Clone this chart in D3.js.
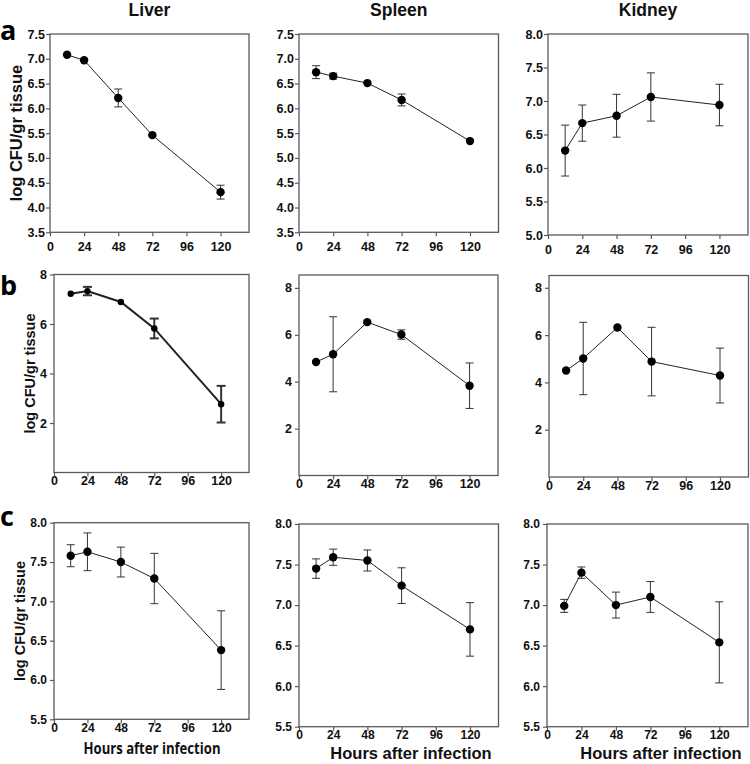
<!DOCTYPE html>
<html>
<head>
<meta charset="utf-8">
<script src="https://cdn.jsdelivr.net/npm/d3@7"></script>
<style>
  html, body { margin: 0; padding: 0; background: #fff; }
  svg { display: block; }
</style>
</head>
<body>
<svg id="chart" width="750" height="764"></svg>
<script>
// ---------- data ----------
const hours = [12, 24, 48, 72, 120];
const xTicks = [0, 24, 48, 72, 96, 120];
const organs = ["Liver", "Spleen", "Kidney"];
const rowLetters = ["a", "b", "c"];
const yLabel = "log CFU/gr tissue";
const xLabel = "Hours after infection";

const liverA = [7.08, 6.97, 6.21, 5.46, 4.31];
const liverAErr = [0, 0, 0.18, 0, 0.14];
const spleenA = [6.73, 6.65, 6.51, 6.17, 5.34];
const spleenAErr = [0.13, 0.06, 0, 0.12, 0];
const kidneyA = [6.26, 6.67, 6.78, 7.06, 6.94];
const kidneyAErr = [0.38, 0.27, 0.32, 0.36, 0.31];

const liverB = [7.22, 7.33, 6.89, 5.82, 2.76];
const liverBErr = [0, 0.17, 0, 0.40, 0.74];
const spleenB = [4.84, 5.17, 6.54, 6.01, 3.83];
const spleenBErr = [0, 1.6, 0, 0.2, 0.97];
const kidneyB = [4.50, 5.01, 6.32, 4.88, 4.29];
const kidneyBErr = [0, 1.53, 0, 1.45, 1.16];

const liverC = [7.58, 7.63, 7.50, 7.29, 6.38];
const liverCErr = [0.14, 0.24, 0.19, 0.32, 0.50];
const spleenC = [7.45, 7.59, 7.55, 7.24, 6.70];
const spleenCErr = [0.12, 0.10, 0.13, 0.22, 0.33];
const kidneyC = [6.99, 7.40, 7.00, 7.10, 6.54];
const kidneyCErr = [0.08, 0.07, 0.16, 0.19, 0.50];

const yTicksA = [3.5, 4.0, 4.5, 5.0, 5.5, 6.0, 6.5, 7.0, 7.5];
const yTicksAK = [5.0, 5.5, 6.0, 6.5, 7.0, 7.5, 8.0];
const yTicksB = [2, 4, 6, 8];
const yTicksC = [5.5, 6.0, 6.5, 7.0, 7.5, 8.0];

// ---------- layout ----------
const panels = [
  {row:0, col:0, vals:liverA,  err:liverAErr,  ticks:yTicksA,  dom:[3.5,7.5], l:50,  r:249,   t:34,    b:232.3, fmt:".1f"},
  {row:0, col:1, vals:spleenA, err:spleenAErr, ticks:yTicksA,  dom:[3.5,7.5], l:299, r:498.5, t:34,    b:232.3, fmt:".1f"},
  {row:0, col:2, vals:kidneyA, err:kidneyAErr, ticks:yTicksAK, dom:[5.0,8.0], l:548, r:748,   t:34,    b:235,   fmt:".1f"},
  {row:1, col:0, vals:liverB,  err:liverBErr,  ticks:yTicksB,  dom:[0,8],     l:54,  r:249,   t:274.5, b:472.5, fmt:"d", thick:true},
  {row:1, col:1, vals:spleenB, err:spleenBErr, ticks:yTicksB,  dom:[0,8.55],  l:299, r:498,   t:275,   b:475.5, fmt:"d"},
  {row:1, col:2, vals:kidneyB, err:kidneyBErr, ticks:yTicksB,  dom:[0,8.52],  l:549, r:748.5, t:275.5, b:477,   fmt:"d"},
  {row:2, col:0, vals:liverC,  err:liverCErr,  ticks:yTicksC,  dom:[5.5,8.0], l:54,  r:249,   t:522.7, b:719.3, fmt:".1f"},
  {row:2, col:1, vals:spleenC, err:spleenCErr, ticks:yTicksC,  dom:[5.5,8.0], l:299, r:498.5, t:524,   b:726.7, fmt:".1f"},
  {row:2, col:2, vals:kidneyC, err:kidneyCErr, ticks:yTicksC,  dom:[5.5,8.0], l:547, r:748,   t:524,   b:726.7, fmt:".1f"}
];

const svg = d3.select("#chart");
const axisColor = "#5a5a5a";
const tickFont = "'Liberation Sans', Arial, sans-serif";

panels.forEach(p => {
  const x = d3.scaleLinear().domain([0, 140]).range([p.l, p.r]);
  const y = d3.scaleLinear().domain(p.dom).range([p.b, p.t]);
  const g = svg.append("g");

  // box
  g.append("rect")
    .attr("x", p.l).attr("y", p.t)
    .attr("width", p.r - p.l).attr("height", p.b - p.t)
    .attr("fill", "none").attr("stroke", axisColor).attr("stroke-width", 1.3);

  const padY = p.row === 0 ? 1 : 3;
  const padX = p.row === 0 ? 6 : 0;
  const tfs = p.row === 2 ? 12 : 12.5;

  const ya = g.append("g").attr("transform", `translate(${p.l},0)`)
    .call(d3.axisLeft(y).tickValues(p.ticks).tickFormat(d3.format(p.fmt)).tickSize(4).tickPadding(padY).tickSizeOuter(0));
  const xa = g.append("g").attr("transform", `translate(0,${p.b})`)
    .call(d3.axisBottom(x).tickValues(xTicks).tickFormat(d3.format("d")).tickSize(4).tickPadding(padX).tickSizeOuter(0));
  [ya, xa].forEach(a => {
    a.select(".domain").remove();
    a.selectAll(".tick line").attr("stroke", axisColor).attr("stroke-width", 1.2);
    a.selectAll(".tick text").attr("fill", "#111").style("font-family", tickFont)
      .style("font-size", tfs + "px").style("font-weight", "bold");
  });

  const pts = hours.map((h, i) => ({h, v: p.vals[i], e: p.err[i]}));
  const lw = p.thick ? 2 : 1;
  const capW = p.thick ? 4.5 : 4;

  // error bars
  const eb = g.append("g").attr("stroke", "#333").attr("stroke-width", lw);
  pts.filter(d => d.e > 0).forEach(d => {
    eb.append("line").attr("x1", x(d.h)).attr("x2", x(d.h)).attr("y1", y(d.v - d.e)).attr("y2", y(d.v + d.e));
    eb.append("line").attr("x1", x(d.h) - capW).attr("x2", x(d.h) + capW).attr("y1", y(d.v + d.e)).attr("y2", y(d.v + d.e));
    eb.append("line").attr("x1", x(d.h) - capW).attr("x2", x(d.h) + capW).attr("y1", y(d.v - d.e)).attr("y2", y(d.v - d.e));
  });

  // line
  g.append("path").datum(pts)
    .attr("d", d3.line().x(d => x(d.h)).y(d => y(d.v)))
    .attr("fill", "none").attr("stroke", "#222").attr("stroke-width", lw);

  // dots
  g.selectAll("circle.dot").data(pts).enter().append("circle")
    .attr("class", "dot")
    .attr("cx", d => x(d.h)).attr("cy", d => y(d.v))
    .attr("r", p.thick ? 3.2 : 4.2).attr("fill", "#000");

  // column titles
  if (p.row === 0) {
    svg.append("text").attr("x", (p.l + p.r) / 2).attr("y", 16)
      .attr("text-anchor", "middle")
      .style("font-family", tickFont).style("font-weight", "bold").style("font-size", "17.5px")
      .attr("fill", "#111").text(organs[p.col]);
  }

  // y label and row letter
  if (p.col === 0) {
    const lx = [16, 30, 20][p.row];
    const fs = [16.5, 14.5, 14.5][p.row];
    svg.append("text")
      .attr("transform", `translate(${lx},${(p.t + p.b) / 2}) rotate(-90)`)
      .attr("text-anchor", "middle").attr("dominant-baseline", "central")
      .style("font-family", tickFont).style("font-weight", "bold").style("font-size", fs + "px")
      .attr("fill", "#111").text(yLabel);
    const ly = [40, 295, 525.5][p.row];
    svg.append("text").attr("x", 0).attr("y", ly)
      .style("font-family", "'Open Sans', sans-serif").style("font-weight", "bold").style("font-size", "27px")
      .attr("fill", "#000").text(rowLetters[p.row]);
  }

  // x label
  if (p.row === 2) {
    const cx = [152, 411, 661][p.col];
    const by = p.col === 0 ? 754 : 758.5;
    const t = svg.append("text").attr("x", cx).attr("y", by)
      .attr("text-anchor", "middle")
      .attr("fill", "#111").text(xLabel);
    if (p.col === 0) {
      t.style("font-family", "'Open Sans', sans-serif").style("font-weight", "bold").style("font-size", "16px")
        .attr("textLength", 137).attr("lengthAdjust", "spacingAndGlyphs");
    } else {
      t.style("font-family", tickFont).style("font-weight", "bold").style("font-size", "16.5px");
    }
  }
});
</script>
</body>
</html>
